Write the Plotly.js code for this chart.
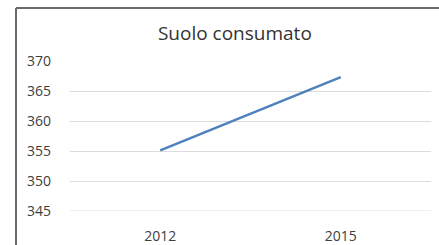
<!DOCTYPE html>
<html>
<head>
<meta charset="utf-8">
<script src="https://cdn.plot.ly/plotly-3.0.1.min.js"></script>
<style>html,body{margin:0;padding:0;background:#fff;}#chart{width:439px;height:245px;}</style>
</head>
<body>
<div id="chart"></div>
<script>
const years = ["2012", "2015"];
const suoloConsumato = [355.1, 367.3];
const yTicks = [345, 350, 355, 360, 365, 370];

const trace = {
  x: years,
  y: suoloConsumato,
  type: "scatter",
  mode: "lines",
  line: {color: "#4f81bd", width: 2.5},
  hoverinfo: "none"
};

const L = 70, R = 8, T = 61, B = 34, W = 439, H = 245;
const pw = W - L - R, ph = H - T - B;
const bx = (16 - L) / pw;
const by = 1 + (T - 8) / ph;

const layout = {
  width: W, height: H,
  margin: {l: L, r: R, t: T, b: B, pad: 0},
  paper_bgcolor: "#ffffff",
  plot_bgcolor: "#ffffff",
  showlegend: false,
  title: {
    text: "Suolo consumato",
    font: {family: "Open Sans, sans-serif", size: 19, color: "#333333"},
    x: 0.535, xanchor: "center", y: 0.862, yanchor: "middle"
  },
  xaxis: {
    type: "category",
    range: [-0.5, 1.5],
    showgrid: false, zeroline: false, showline: false,
    ticks: "", ticklen: 0, ticklabelstandoff: 15,
    tickfont: {family: "Open Sans, sans-serif", size: 14, color: "#404040"},
    automargin: false
  },
  yaxis: {
    range: [345, 370],
    tickvals: yTicks,
    ticktext: yTicks.map(String),
    showgrid: true, gridcolor: "#dcdcdc", gridwidth: 1,
    zeroline: false, showline: false, ticks: "", ticklabelstandoff: 18,
    tickfont: {family: "Open Sans, sans-serif", size: 14, color: "#404040"},
    automargin: false
  },
  shapes: [
    {type: "line", xref: "paper", yref: "y", x0: 0, x1: 1, y0: yTicks[0], y1: yTicks[0],
     line: {color: "#dcdcdc", width: 1}},
    {type: "line", xref: "paper", yref: "paper", x0: bx, x1: bx, y0: -0.5, y1: by,
     line: {color: "#6a6a6a", width: 2}},
    {type: "line", xref: "paper", yref: "paper", x0: bx, x1: 1.2, y0: by, y1: by,
     line: {color: "#6a6a6a", width: 2}}
  ]
};

Plotly.newPlot("chart", [trace], layout, {staticPlot: true, displayModeBar: false});
</script>
</body>
</html>
